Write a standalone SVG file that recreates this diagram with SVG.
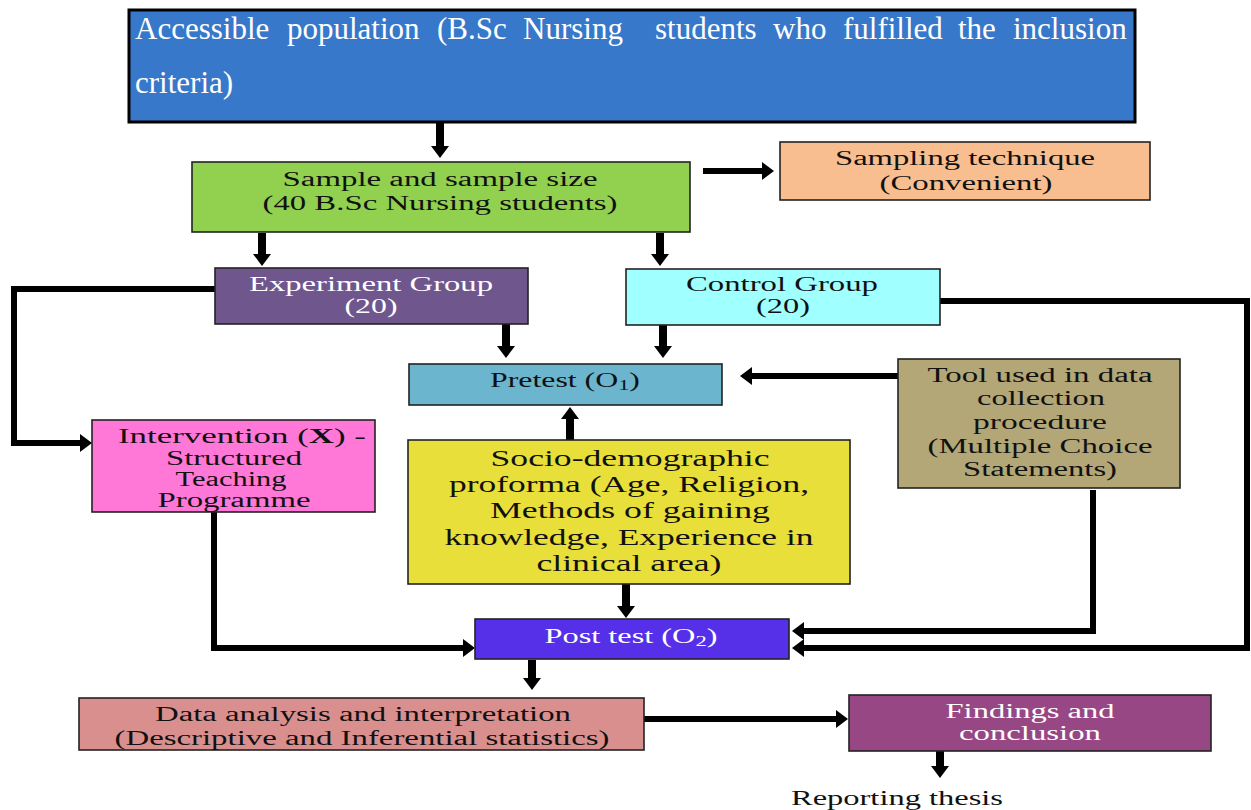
<svg xmlns="http://www.w3.org/2000/svg" width="1251" height="810" viewBox="0 0 1251 810">
<style>
.box{stroke:#222;stroke-width:1.6}
.t{font-family:"Liberation Serif","Times New Roman",serif;font-size:20px;fill:#111;text-anchor:middle}
.w{fill:#fff}
.c{fill:none;stroke:#000;stroke-width:6;marker-end:url(#ah)}
.s{stroke-width:8}
</style>
<defs>
<marker id="ah" markerUnits="userSpaceOnUse" viewBox="0 0 12 18" markerWidth="12" markerHeight="18" refX="0" refY="9" orient="auto">
<path d="M0,0 L12,9 L0,18 z" fill="#000"/>
</marker>
</defs>
<rect width="1251" height="810" fill="#fff"/>
<g id="connectors">
<line class="c s" x1="440" y1="122" x2="440" y2="146"/>
<line class="c" x1="703" y1="171" x2="762" y2="171"/>
<line class="c s" x1="262" y1="233" x2="262" y2="254"/>
<line class="c s" x1="660" y1="233" x2="660" y2="254"/>
<line class="c s" x1="506" y1="324" x2="506" y2="346"/>
<line class="c s" x1="663" y1="325" x2="663" y2="346"/>
<line class="c" x1="898" y1="376" x2="752" y2="376"/>
<line class="c s" x1="570" y1="440" x2="570" y2="419"/>
<path class="c" d="M215,289 H14 V443 H80"/>
<line class="c s" x1="626" y1="584" x2="626" y2="606"/>
<path class="c" d="M214,512 V648 H463"/>
<path class="c" d="M1093,490 V631 H804"/>
<path class="c" d="M940,301 H1247 V648 H804"/>
<line class="c s" x1="532" y1="660" x2="532" y2="678"/>
<line class="c" x1="644" y1="719" x2="836" y2="719"/>
<line class="c s" x1="940" y1="751" x2="940" y2="766"/>
</g>
<g id="accessible">
<rect x="129" y="10" width="1006" height="112" fill="#3778CA" stroke="#000" stroke-width="3"/>
<text class="t w" y="39" style="font-size:31px;text-anchor:start"><tspan x="135">Accessible</tspan> <tspan x="287">population</tspan> <tspan x="437">(B.Sc</tspan> <tspan x="523">Nursing</tspan>  <tspan x="655">students</tspan> <tspan x="773">who</tspan> <tspan x="843">fulfilled</tspan> <tspan x="958">the</tspan> <tspan x="1013">inclusion</tspan></text>
<text class="t w" x="135" y="93" style="font-size:31px;text-anchor:start">criteria)</text>
</g>
<g id="sample">
<rect class="box" x="192" y="162" width="498" height="70" fill="#92D050"/>
<text class="t" x="440" y="186" textLength="315" lengthAdjust="spacingAndGlyphs">Sample and sample size</text>
<text class="t" x="440" y="210" textLength="355" lengthAdjust="spacingAndGlyphs">(40 B.Sc Nursing students)</text>
</g>
<g id="sampling">
<rect class="box" x="780" y="142" width="370" height="58" fill="#F8BE90"/>
<text class="t" x="965" y="165" textLength="260" lengthAdjust="spacingAndGlyphs">Sampling technique</text>
<text class="t" x="966" y="190" textLength="173" lengthAdjust="spacingAndGlyphs">(Convenient)</text>
</g>
<g id="experiment">
<rect class="box" x="215" y="268" width="313" height="56" fill="#6F568D"/>
<text class="t w" x="371" y="291" textLength="244" lengthAdjust="spacingAndGlyphs">Experiment Group</text>
<text class="t w" x="371" y="313" textLength="53" lengthAdjust="spacingAndGlyphs">(20)</text>
</g>
<g id="control">
<rect class="box" x="626" y="269" width="314" height="56" fill="#A0FFFF"/>
<text class="t" x="782" y="291" textLength="192" lengthAdjust="spacingAndGlyphs">Control Group</text>
<text class="t" x="783" y="313" textLength="54" lengthAdjust="spacingAndGlyphs">(20)</text>
</g>
<g id="pretest">
<rect class="box" x="409" y="364" width="313" height="41" fill="#6CB5CE"/>
<text class="t" x="565" y="387" textLength="150" lengthAdjust="spacingAndGlyphs">Pretest (O<tspan font-size="14" dy="3">1</tspan><tspan dy="-3">)</tspan></text>
</g>
<g id="tool">
<rect class="box" x="898" y="359" width="282" height="129" fill="#B3A677"/>
<text class="t" x="1040" y="382" textLength="225" lengthAdjust="spacingAndGlyphs">Tool used in data</text>
<text class="t" x="1041" y="405" textLength="128" lengthAdjust="spacingAndGlyphs">collection</text>
<text class="t" x="1040" y="429" textLength="134" lengthAdjust="spacingAndGlyphs">procedure</text>
<text class="t" x="1040" y="453" textLength="225" lengthAdjust="spacingAndGlyphs">(Multiple Choice</text>
<text class="t" x="1040" y="476" textLength="154" lengthAdjust="spacingAndGlyphs">Statements)</text>
</g>
<g id="intervention">
<rect class="box" x="92" y="420" width="283" height="92" fill="#FF78D7"/>
<text class="t" x="242" y="443" textLength="248" lengthAdjust="spacingAndGlyphs">Intervention (<tspan font-weight="bold">X</tspan>) -</text>
<text class="t" x="234" y="465" textLength="136" lengthAdjust="spacingAndGlyphs">Structured</text>
<text class="t" x="231" y="486" textLength="111" lengthAdjust="spacingAndGlyphs">Teaching</text>
<text class="t" x="234" y="507" textLength="153" lengthAdjust="spacingAndGlyphs">Programme</text>
</g>
<g id="socio">
<rect class="box" x="408" y="440" width="442" height="144" fill="#E9DF3A"/>
<text class="t" x="630" y="466" style="font-size:23px" textLength="279" lengthAdjust="spacingAndGlyphs">Socio-demographic</text>
<text class="t" x="629" y="492" style="font-size:23px" textLength="360" lengthAdjust="spacingAndGlyphs">proforma (Age, Religion,</text>
<text class="t" x="630" y="518" style="font-size:23px" textLength="280" lengthAdjust="spacingAndGlyphs">Methods of gaining</text>
<text class="t" x="629" y="545" style="font-size:23px" textLength="369" lengthAdjust="spacingAndGlyphs">knowledge, Experience in</text>
<text class="t" x="629" y="571" style="font-size:23px" textLength="185" lengthAdjust="spacingAndGlyphs">clinical area)</text>
</g>
<g id="posttest">
<rect class="box" x="475" y="619" width="314" height="40" fill="#5530E8"/>
<text class="t w" x="631" y="643" textLength="173" lengthAdjust="spacingAndGlyphs">Post test (O<tspan font-size="14" dy="3">2</tspan><tspan dy="-3">)</tspan></text>
</g>
<g id="analysis">
<rect class="box" x="79" y="698" width="565" height="52" fill="#DA8F8F"/>
<text class="t" x="363" y="721" textLength="416" lengthAdjust="spacingAndGlyphs">Data analysis and interpretation</text>
<text class="t" x="362" y="745" textLength="495" lengthAdjust="spacingAndGlyphs">(Descriptive and Inferential statistics)</text>
</g>
<g id="findings">
<rect class="box" x="849" y="695" width="362" height="56" fill="#974784"/>
<text class="t w" x="1030" y="718" textLength="169" lengthAdjust="spacingAndGlyphs">Findings and</text>
<text class="t w" x="1030" y="740" textLength="142" lengthAdjust="spacingAndGlyphs">conclusion</text>
</g>
<g id="reporting">
<text class="t" x="897" y="805" textLength="212" lengthAdjust="spacingAndGlyphs">Reporting thesis</text>
</g>
</svg>
